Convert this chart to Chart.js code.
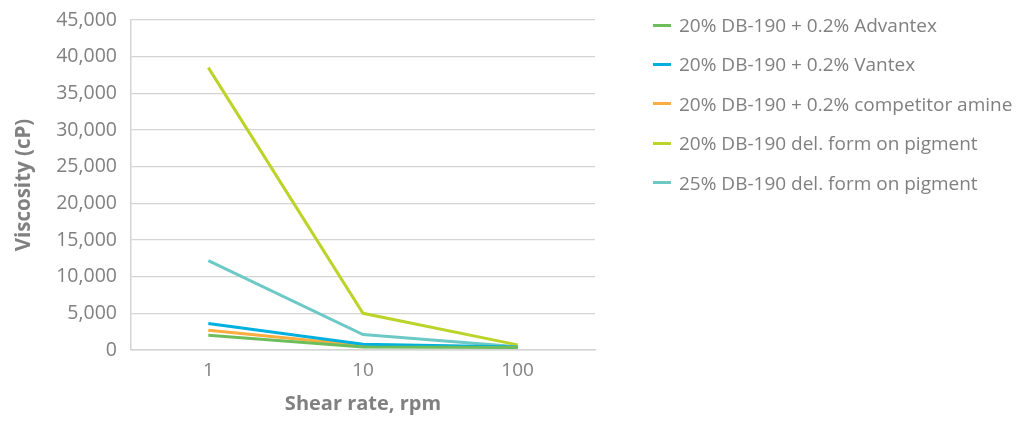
<!DOCTYPE html>
<html>
<head>
<meta charset="utf-8">
<script src="https://cdn.jsdelivr.net/npm/chart.js@4/dist/chart.umd.min.js"></script>
<style>
  html, body { margin: 0; padding: 0; background: #ffffff; }
  #wrap { position: relative; width: 1025px; height: 421px; }
  #c { position: absolute; left: 0; top: 0; }
  #legend { position: absolute; left: 653px; top: 0; font-family: "Open Sans", sans-serif; font-size: 19px; color: #808080; }
  .item { position: absolute; left: 0; white-space: nowrap; height: 26px; line-height: 26px; }
  .swatch { position: absolute; left: 0; top: 11.5px; width: 18px; height: 3px; }
  .txt { position: absolute; left: 26px; top: 0; }
</style>
</head>
<body>
<div id="wrap">
  <canvas id="c" width="1025" height="421"></canvas>
  <div id="legend"></div>
</div>
<script>
const categories = ['1', '10', '100'];
const seriesNames = [
  '20% DB-190 + 0.2% Advantex',
  '20% DB-190 + 0.2% Vantex',
  '20% DB-190 + 0.2% competitor amine',
  '20% DB-190 del. form on pigment',
  '25% DB-190 del. form on pigment'
];
const advantex = [2000, 400, 350];
const vantex = [3600, 800, 400];
const competitor = [2700, 600, 400];
const delForm20 = [38500, 5000, 700];
const delForm25 = [12200, 2100, 450];
const seriesColors = ['#6dbe5b', '#00b0df', '#fbad3f', '#bcd42a', '#6dc9c6'];
const yTicks = [0, 5000, 10000, 15000, 20000, 25000, 30000, 35000, 40000, 45000];

const seriesValues = [advantex, vantex, competitor, delForm20, delForm25];
const datasets = seriesValues.map((vals, i) => ({
  label: seriesNames[i],
  data: vals,
  borderColor: seriesColors[i],
  backgroundColor: seriesColors[i],
  borderWidth: 3,
  pointRadius: 0,
  tension: 0,
  fill: false,
  order: i === 0 ? 0 : i + 1
}));

const textColor = '#808080';
const gridColor = '#d4d4d4';

new Chart(document.getElementById('c'), {
  type: 'line',
  data: { labels: categories, datasets: datasets },
  options: {
    responsive: false,
    devicePixelRatio: 1,
    animation: false,
    layout: { padding: { top: 20, right: 430, left: 0, bottom: 0 } },
    plugins: { legend: { display: false }, tooltip: { enabled: false } },
    scales: {
      x: {
        type: 'category',
        offset: true,
        grid: { display: false, drawTicks: false },
        border: { display: true, color: gridColor, width: 1.5 },
        ticks: { color: textColor, font: { family: 'Open Sans', size: 19 }, padding: 9 },
        title: { display: true, text: 'Shear rate, rpm', color: textColor, font: { family: 'Open Sans', size: 20, weight: 'bold' }, padding: { top: 0, bottom: 5 } },
        afterFit: (s) => { s.height = 71; s.paddingLeft = 0; s.paddingRight = 0; }
      },
      y: {
        min: 0,
        max: 45000,
        afterBuildTicks: (s) => { s.ticks = yTicks.map(v => ({ value: v })); },
        grid: { color: gridColor, lineWidth: 1.2, drawTicks: false },
        border: { display: true, color: gridColor, width: 1.5 },
        ticks: {
          color: textColor,
          font: { family: 'Open Sans', size: 19.5 },
          padding: 14,
          callback: (v) => Number(v).toLocaleString('en-US')
        },
        title: { display: true, text: 'Viscosity (cP)', color: textColor, font: { family: 'Open Sans', size: 20.5, weight: 'bold' }, padding: { top: 12, bottom: 0 } },
        afterFit: (s) => { s.width = 131; s.paddingTop = 0; s.paddingBottom = 0; }
      }
    }
  }
});

const legend = document.getElementById('legend');
seriesNames.forEach((name, i) => {
  const item = document.createElement('div');
  item.className = 'item';
  item.style.top = (12 + i * 39.4) + 'px';
  const sw = document.createElement('div');
  sw.className = 'swatch';
  sw.style.background = seriesColors[i];
  const t = document.createElement('span');
  t.className = 'txt';
  t.textContent = name;
  item.appendChild(sw);
  item.appendChild(t);
  legend.appendChild(item);
});
</script>
</body>
</html>
